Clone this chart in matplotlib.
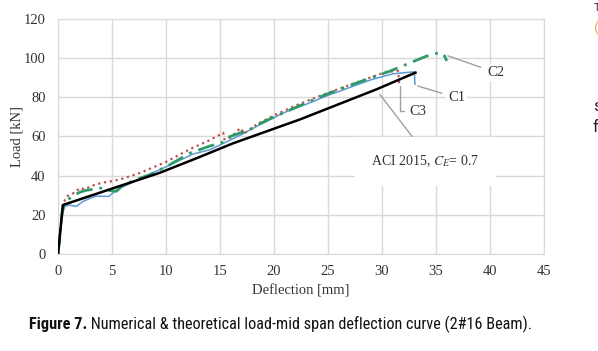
import matplotlib
matplotlib.use("Agg")
import matplotlib.pyplot as plt
from matplotlib import font_manager

# deflection [mm] / load [kN]
aci_x = [0, 0.45, 4.9, 9.4, 13.1, 16.2, 22.4, 29.5, 33.1]
aci_y = [0, 25, 33.2, 41.4, 49.5, 56.5, 68.7, 84.1, 92.6]

c1_x = [0, 0.2, 0.4, 0.6, 1.0, 1.7, 2.3, 3.0, 3.5, 4.7, 5.5, 6.5, 8.0, 10.0,
        12.5, 14.1, 15.5, 17.0, 18.5, 20.9, 23.0, 25.0, 27.0, 29.0, 31.0,
        32.5, 33.0, 33.05]
c1_y = [0, 8, 20, 24, 25, 24.3, 26.8, 28.5, 29.5, 29.4, 33, 35.5, 39.5, 44.5,
        51, 53.3, 57, 61, 65.5, 72.1, 76.5, 81, 85, 89, 92,
        92.8, 93, 86.7]

c2_x = [0, 0.2, 0.4, 0.6, 1.1, 1.5, 2.0, 2.6, 3.2, 3.9, 4.5, 5.4, 6.0, 7.0,
        8.5, 10.0, 12.2, 14.0, 15.2, 15.6, 16.9, 17.5, 18.5, 20.0, 22.0,
        24.6, 26.5, 28.5, 30.7, 32.3, 34.1, 35.4, 35.8, 36.0]
c2_y = [0, 10, 22, 26, 28.5, 30, 31.5, 32.5, 33, 33.7, 32.5, 32, 35, 37.5,
        40.5, 44.5, 51.5, 55, 57, 59.3, 61.9, 62.5, 66, 70, 74.8,
        81, 85, 89, 93.3, 96.9, 101, 103, 101, 98.6]

c3_x = [0, 0.1, 0.25, 0.4, 0.5, 0.8, 1.2, 1.6, 2.0, 2.5, 3.0, 3.5, 4.2, 5.0,
        6.0, 7.6, 8.5, 10.0, 12.2, 14.0, 15.3, 15.4, 16.0, 16.9, 17.2, 18.5,
        19.9, 22.0, 24.6, 26.5, 28.5, 30.4, 31.5, 31.6]
c3_y = [0, 6, 14, 21, 26, 29.4, 30.5, 31.5, 33.7, 33, 34.5, 35.5, 36.5, 37.2,
        38.5, 41.4, 43.5, 47, 53.5, 58, 61.9, 58.5, 59.5, 64.4, 61.5, 66.5,
        70.5, 75.8, 81.5, 85.3, 89.3, 93, 93.5, 85.8]

x_ticks = list(range(0, 50, 5))
y_ticks = list(range(0, 140, 20))

plt.rcParams["font.family"] = ["Liberation Serif", "DejaVu Serif"]
plt.rcParams["mathtext.fontset"] = "stix"

fig = plt.figure(figsize=(5.98, 3.51), dpi=100)
ax = fig.add_axes([0.097, 0.2764, 0.8127, 0.6695])

ax.plot(c1_x, c1_y, color="#5b9bd5", lw=1.1, zorder=3)
ax.plot(c3_x, c3_y, color="#c0504d", lw=1.6, ls=":", zorder=4)
ax.plot(c2_x, c2_y, color="#2f9a68", lw=2.0, ls=(0, (6, 2.5, 1, 2.5)), zorder=5)
ax.plot(aci_x, aci_y, color="black", lw=1.8, zorder=6)

ax.set_xlim(0, 45)
ax.set_ylim(0, 120)
ax.set_xticks(x_ticks)
ax.set_yticks(y_ticks)
ax.grid(True, color="#d9d9d9", lw=1)
ax.set_axisbelow(True)
for s in ax.spines.values():
    s.set_color("#d9d9d9")
ax.tick_params(length=0, labelsize=10.5, colors="#333333")
ax.tick_params(axis="y", pad=9)
ax.tick_params(axis="x", pad=8)
ax.set_xlabel("Deflection [mm]", fontsize=10.5, color="#333333")
ax.set_ylabel("Load [kN]", fontsize=10.5, color="#333333")
ax.xaxis.set_label_coords(0.5, -0.13)
ax.yaxis.set_label_coords(-0.072, 0.5)

lead = dict(arrowstyle="-", color="#a0a0a0", lw=1)
box = dict(boxstyle="square,pad=0.15", fc="white", ec="none")
ax.annotate("C2", xy=(36.1, 101.2), xytext=(40.5, 92.7), fontsize=10.5,
            ha="center", va="center", color="#333333", bbox=box,
            arrowprops=dict(lead, shrinkA=3, shrinkB=0))
ax.annotate("C1", xy=(33.3, 85.8), xytext=(36.9, 79.8), fontsize=10.5,
            ha="center", va="center", color="#333333", bbox=box,
            arrowprops=dict(lead, shrinkA=3, shrinkB=0))
ax.annotate("C3", xy=(31.7, 85.8), xytext=(33.3, 73.0), fontsize=10.5,
            ha="center", va="center", color="#333333", bbox=box,
            arrowprops=dict(lead, shrinkA=2, shrinkB=0,
                            connectionstyle="angle,angleA=0,angleB=90,rad=0"))
ax.annotate(r"ACI 2015, $C_E$= 0.7", xy=(29.8, 81.5), xytext=(34.0, 47.3),
            fontsize=10, ha="center", va="center", color="#333333",
            bbox=dict(boxstyle="square,pad=1.2", fc="white", ec="none"),
            arrowprops=dict(lead, shrinkA=0, shrinkB=0, relpos=(0.5, 1.0)),
            zorder=2)

# caption in a narrow sans face if one is available
cap_font = "Roboto"
for name in ["Roboto Condensed", "Liberation Sans Narrow", "Roboto"]:
    try:
        font_manager.findfont(font_manager.FontProperties(family=name),
                              fallback_to_default=False)
        cap_font = name
        break
    except ValueError:
        pass

cap_size = 11.7
t1 = fig.text(29 / 598, 1 - 324 / 351, "Figure 7.", family=cap_font,
              fontsize=cap_size, fontweight="bold", color="#111111", va="center")
ax.annotate(" Numerical & theoretical load-mid span deflection curve (2#16 Beam).",
            xy=(1, 0.5), xycoords=t1, va="center", ha="left",
            family=cap_font, fontsize=cap_size, color="#111111",
            annotation_clip=False)

# cut-off text from the neighbouring column
fig.text(593 / 598, 1 - 107 / 351, "s", family="Roboto", fontsize=12,
         color="#222222", va="center")
fig.text(593 / 598, 1 - 128 / 351, "f", family="Roboto", fontsize=12,
         color="#222222", va="center")
fig.text(594 / 598, 1 - 28 / 351, "(", family="Roboto", fontsize=11,
         color="#f0b060", va="center")
fig.text(594 / 598, 1 - 8 / 351, "T", family="Roboto", fontsize=8,
         color="#3a2a5a", va="center")

fig.savefig("out.png", dpi=100)
